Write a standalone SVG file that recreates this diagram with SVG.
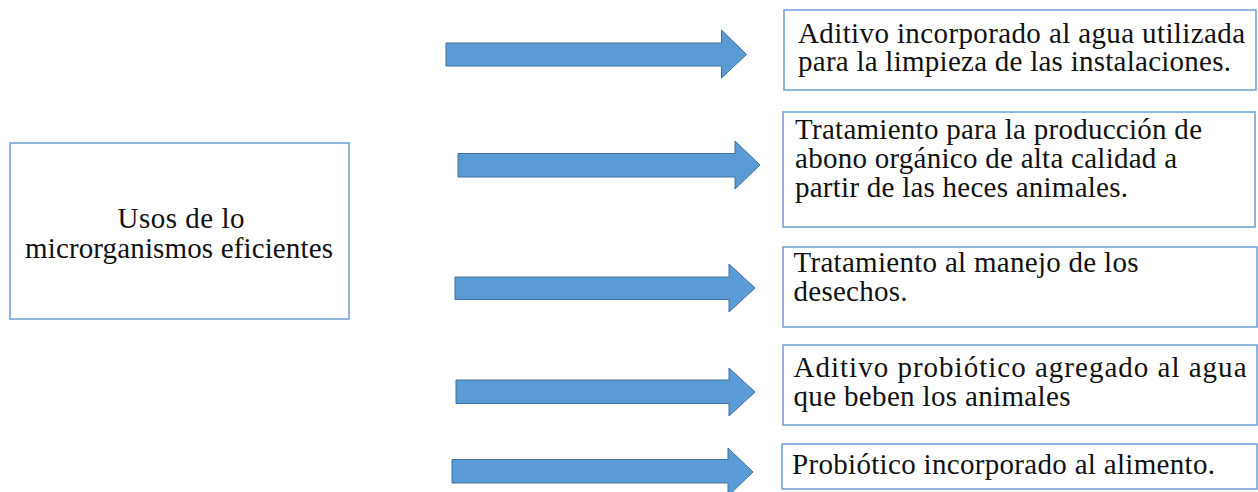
<svg xmlns="http://www.w3.org/2000/svg" width="1258" height="492" viewBox="0 0 1258 492">
<style>
.box{fill:#fff;stroke:#6a9fd3;stroke-width:1.5}
.arr{fill:#5b9bd5;stroke:#41719c;stroke-width:1}
text{font-family:"Liberation Serif","Times New Roman",serif;font-size:29px;fill:#111}
.c{text-anchor:middle}
</style>
<rect width="1258" height="492" fill="#fff"/>
<g id="source">
<rect class="box" x="10" y="143" width="339" height="176"/>
<text class="c" x="181" y="228" textLength="127">Usos de lo</text>
<text class="c" x="179" y="258" textLength="308">microrganismos eficientes</text>
</g>
<g id="connectors">
<polygon class="arr" points="446,43 721.5,43 721.5,30 746.5,54.5 721.5,78 721.5,66 446,66"/>
<polygon class="arr" points="458,153.5 735,153.5 735,141 760,165 735,189 735,177 458,177"/>
<polygon class="arr" points="455,277 729,277 729,264 755,288 729,312 729,299.5 455,299.5"/>
<polygon class="arr" points="456,380 729,380 729,368 755,392 729,416 729,403.5 456,403.5"/>
<polygon class="arr" points="452,459.5 728,459.5 728,448 753,472 728,496 728,483 452,483"/>
</g>
<g id="use1">
<rect class="box" x="784" y="10" width="472" height="80"/>
<text x="798" y="42.5" textLength="447">Aditivo incorporado al agua utilizada</text>
<text x="798" y="71" textLength="433">para la limpieza de las instalaciones.</text>
</g>
<g id="use2">
<rect class="box" x="783" y="112" width="472" height="115"/>
<text x="795" y="139" textLength="407">Tratamiento para la producción de</text>
<text x="795" y="168" textLength="382">abono orgánico de alta calidad a</text>
<text x="795" y="197" textLength="333">partir de las heces animales.</text>
</g>
<g id="use3">
<rect class="box" x="783" y="247" width="474" height="80"/>
<text x="793.5" y="272" textLength="345">Tratamiento al manejo de los</text>
<text x="793.5" y="300.5" textLength="114">desechos.</text>
</g>
<g id="use4">
<rect class="box" x="783" y="345" width="474" height="80"/>
<text x="793.5" y="377" textLength="453">Aditivo probiótico agregado al agua</text>
<text x="793.5" y="405.5" textLength="277">que beben los animales</text>
</g>
<g id="use5">
<rect class="box" x="782" y="444" width="475" height="45"/>
<text x="792" y="474" textLength="423">Probiótico incorporado al alimento.</text>
</g>
</svg>
